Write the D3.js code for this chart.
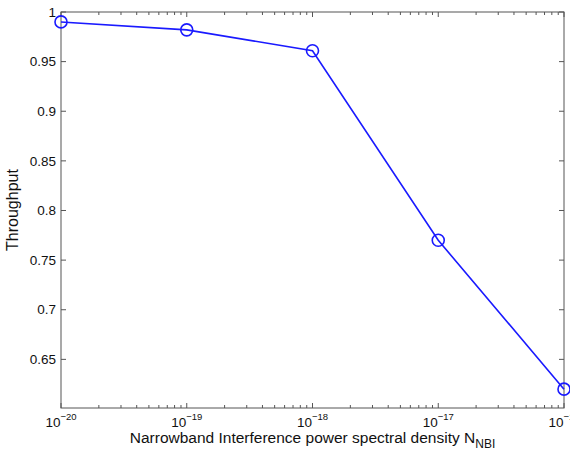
<!DOCTYPE html>
<html>
<head>
<meta charset="utf-8">
<script src="https://cdn.jsdelivr.net/npm/d3@7"></script>
<style>
    body { margin: 0; background: #fff; }
    text { font-family: "Liberation Sans", Arial, sans-serif; }
</style>
</head>
<body>
<svg id="chart" width="570" height="452"></svg>
<script>

// Chart data
var noisePSD = [1e-20, 1e-19, 1e-18, 1e-17, 1e-16];
var throughput = [0.990, 0.982, 0.961, 0.770, 0.620];
var yTicks = [0.65, 0.7, 0.75, 0.8, 0.85, 0.9, 0.95, 1];
var xTickExps = [-20, -19, -18, -17, -16];

var margin = { top: 12, right: 6, bottom: 44, left: 61 };
var width = 570 - margin.left - margin.right;
var height = 452 - margin.top - margin.bottom;

var svg = d3.select("#chart");
var g = svg.append("g")
    .attr("transform", "translate(" + margin.left + "," + margin.top + ")");

var x = d3.scaleLog()
    .domain([1e-20, 1e-16])
    .range([0, width]);

var y = d3.scaleLinear()
    .domain([0.601, 1])
    .range([height, 0]);

var axisColor = "#555";

// minor ticks for the log axis
var minorTicks = [];
xTickExps.slice(0, -1).forEach(function (e) {
    for (var k = 2; k <= 9; k++) minorTicks.push(k * Math.pow(10, e));
});
var majorTicks = xTickExps.map(function (e) { return Math.pow(10, e); });

// x ticks, bottom and top, pointing inward
[[height, -1], [0, 1]].forEach(function (side) {
    g.selectAll(null)
        .data(minorTicks).enter()
        .append("line")
        .attr("x1", function (d) { return x(d); })
        .attr("x2", function (d) { return x(d); })
        .attr("y1", side[0])
        .attr("y2", side[0] + side[1] * 3)
        .attr("stroke", axisColor);
    g.selectAll(null)
        .data(majorTicks).enter()
        .append("line")
        .attr("x1", function (d) { return x(d); })
        .attr("x2", function (d) { return x(d); })
        .attr("y1", side[0])
        .attr("y2", side[0] + side[1] * 5)
        .attr("stroke", axisColor);
});

// y ticks, left and right
[[0, 1], [width, -1]].forEach(function (side) {
    g.selectAll(null)
        .data(yTicks).enter()
        .append("line")
        .attr("x1", side[0])
        .attr("x2", side[0] + side[1] * 5)
        .attr("y1", function (d) { return y(d); })
        .attr("y2", function (d) { return y(d); })
        .attr("stroke", axisColor);
});

// box
g.append("rect")
    .attr("x", 0).attr("y", 0)
    .attr("width", width).attr("height", height)
    .attr("fill", "none")
    .attr("stroke", axisColor)
    .attr("stroke-width", 1);

// y tick labels
g.selectAll(null)
    .data(yTicks).enter()
    .append("text")
    .attr("x", -5)
    .attr("y", function (d) { return y(d); })
    .attr("dy", "0.35em")
    .attr("text-anchor", "end")
    .attr("font-size", 13.5)
    .attr("fill", "#111")
    .text(function (d) { return d3.format("")(d); });

// x tick labels 10^e
var xl = g.selectAll(null)
    .data(xTickExps).enter()
    .append("text")
    .attr("x", function (d) { return x(Math.pow(10, d)); })
    .attr("y", height + 19)
    .attr("text-anchor", "middle")
    .attr("font-size", 13.5)
    .attr("fill", "#111");
xl.append("tspan").text("10");
xl.append("tspan")
    .attr("dy", -7)
    .attr("font-size", 9.5)
    .text(function (d) { return "\u2212" + Math.abs(d); });

// axis labels
g.append("text")
    .attr("transform", "translate(-43," + (height / 2) + ") rotate(-90)")
    .attr("text-anchor", "middle")
    .attr("font-size", 16)
    .attr("fill", "#111")
    .text("Throughput");

var xlab = g.append("text")
    .attr("x", width / 2)
    .attr("y", height + 35)
    .attr("text-anchor", "middle")
    .attr("font-size", 15.5)
    .attr("fill", "#111");
xlab.append("tspan").text("Narrowband Interference power spectral density N");
xlab.append("tspan")
    .attr("dy", 5)
    .attr("font-size", 12)
    .text("NBI");

// series
var pts = noisePSD.map(function (d, i) { return [d, throughput[i]]; });

g.append("path")
    .datum(pts)
    .attr("fill", "none")
    .attr("stroke", "#1a1aff")
    .attr("stroke-width", 1.6)
    .attr("d", d3.line()
        .x(function (d) { return x(d[0]); })
        .y(function (d) { return y(d[1]); }));

g.selectAll(".marker")
    .data(pts).enter()
    .append("circle")
    .attr("class", "marker")
    .attr("cx", function (d) { return x(d[0]); })
    .attr("cy", function (d) { return y(d[1]); })
    .attr("r", 6)
    .attr("fill", "none")
    .attr("stroke", "#1a1aff")
    .attr("stroke-width", 1.6);

</script>
</body>
</html>
